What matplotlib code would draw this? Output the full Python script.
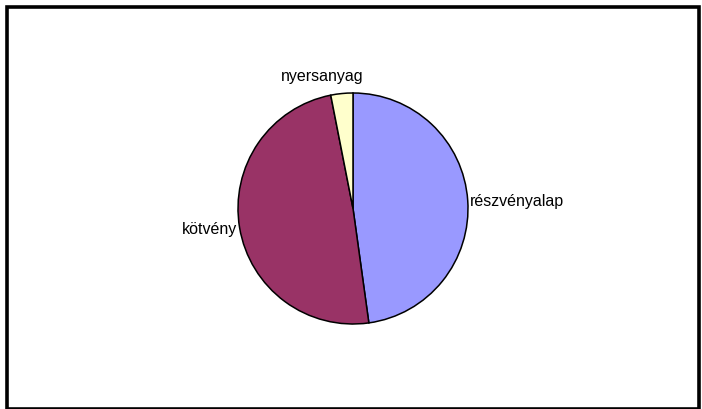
import matplotlib.pyplot as plt
from matplotlib.patches import Rectangle

labels = ["részvényalap", "kötvény", "nyersanyag"]
values = [47.8, 49.1, 3.1]
colors = ["#9999FF", "#993366", "#FFFFCC"]

plt.rcParams['font.family'] = ['Liberation Sans', 'DejaVu Sans']

fig = plt.figure(figsize=(7.02, 4.10), dpi=100)
# axes placed so the pie sits where it is in the original (pixel coords)
ax = fig.add_axes([238 / 702, 85 / 410, 230 / 702, 231 / 410])

wedges, texts = ax.pie(values, labels=labels, colors=colors, startangle=90,
                       counterclock=False, labeldistance=1.02,
                       wedgeprops=dict(edgecolor="black", linewidth=1.1),
                       textprops=dict(fontsize=11.5))
for w in wedges:
    w.set_clip_on(False)
texts[2].set_ha("center")
texts[2].set_va("bottom")
texts[2].set_position((-0.27, 1.09))
ax.set_xlim(-1, 1)
ax.set_ylim(-1, 1)
ax.set_aspect("auto")

# outer frame of the chart area
fig.patches.append(Rectangle((7 / 702, 0), 692 / 702, 402 / 410,
                             transform=fig.transFigure, fill=False,
                             edgecolor="black", linewidth=2.6))

fig.savefig("out.png", dpi=100)
